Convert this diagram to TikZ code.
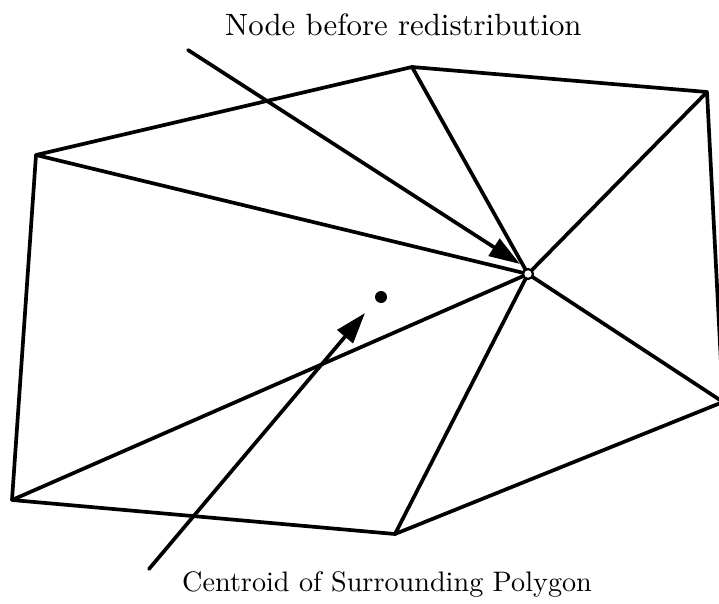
\documentclass[tikz,border=0pt]{standalone}
\usepackage{fontspec}
\usepackage{graphicx}
\usetikzlibrary{arrows.meta}
\begin{document}
\begin{tikzpicture}[x=1pt,y=-1pt,
  edge/.style={line width=3.7pt, line join=round, line cap=round},
  pointer/.style={line width=3.7pt, line cap=round, -{Triangle[length=31pt,width=20pt]}},
  label/.style={inner sep=0pt, anchor=base west}]
\useasboundingbox (0,0) rectangle (719,604);
\clip (0,0) rectangle (719,604);
\coordinate (T) at (412,67);
\coordinate (TR) at (707,92);
\coordinate (R) at (723,402);
\coordinate (B) at (395,534);
\coordinate (BL) at (12,500);
\coordinate (L) at (36,155);
\coordinate (C) at (528,274);
\draw[edge] (T) -- (TR) -- (R) -- (B) -- (BL) -- (L) -- cycle;
\foreach \v in {T,TR,R,B,BL,L} \draw[edge] (C) -- (\v);
\node[circle, fill=white, draw, line width=2.2pt, minimum size=10pt, inner sep=0pt] (cn) at (C) {};
\node[circle, fill=black, minimum size=12pt, inner sep=0pt] (cd) at (381,297) {};
\coordinate (a1s) at (188,50);
\coordinate (a1t) at (520,264);
\draw[pointer] (a1s) -- (a1t);
\coordinate (a2s) at (149,569);
\coordinate (a2t) at (365,313);
\draw[pointer] (a2s) -- (a2t);
\node[label] (top) at (225,36) {\scalebox{3.08}{Node before redistribution}};
\node[label] (bot) at (182,591) {\scalebox{2.82}{Centroid of Surrounding Polygon}};
\end{tikzpicture}
\end{document}
